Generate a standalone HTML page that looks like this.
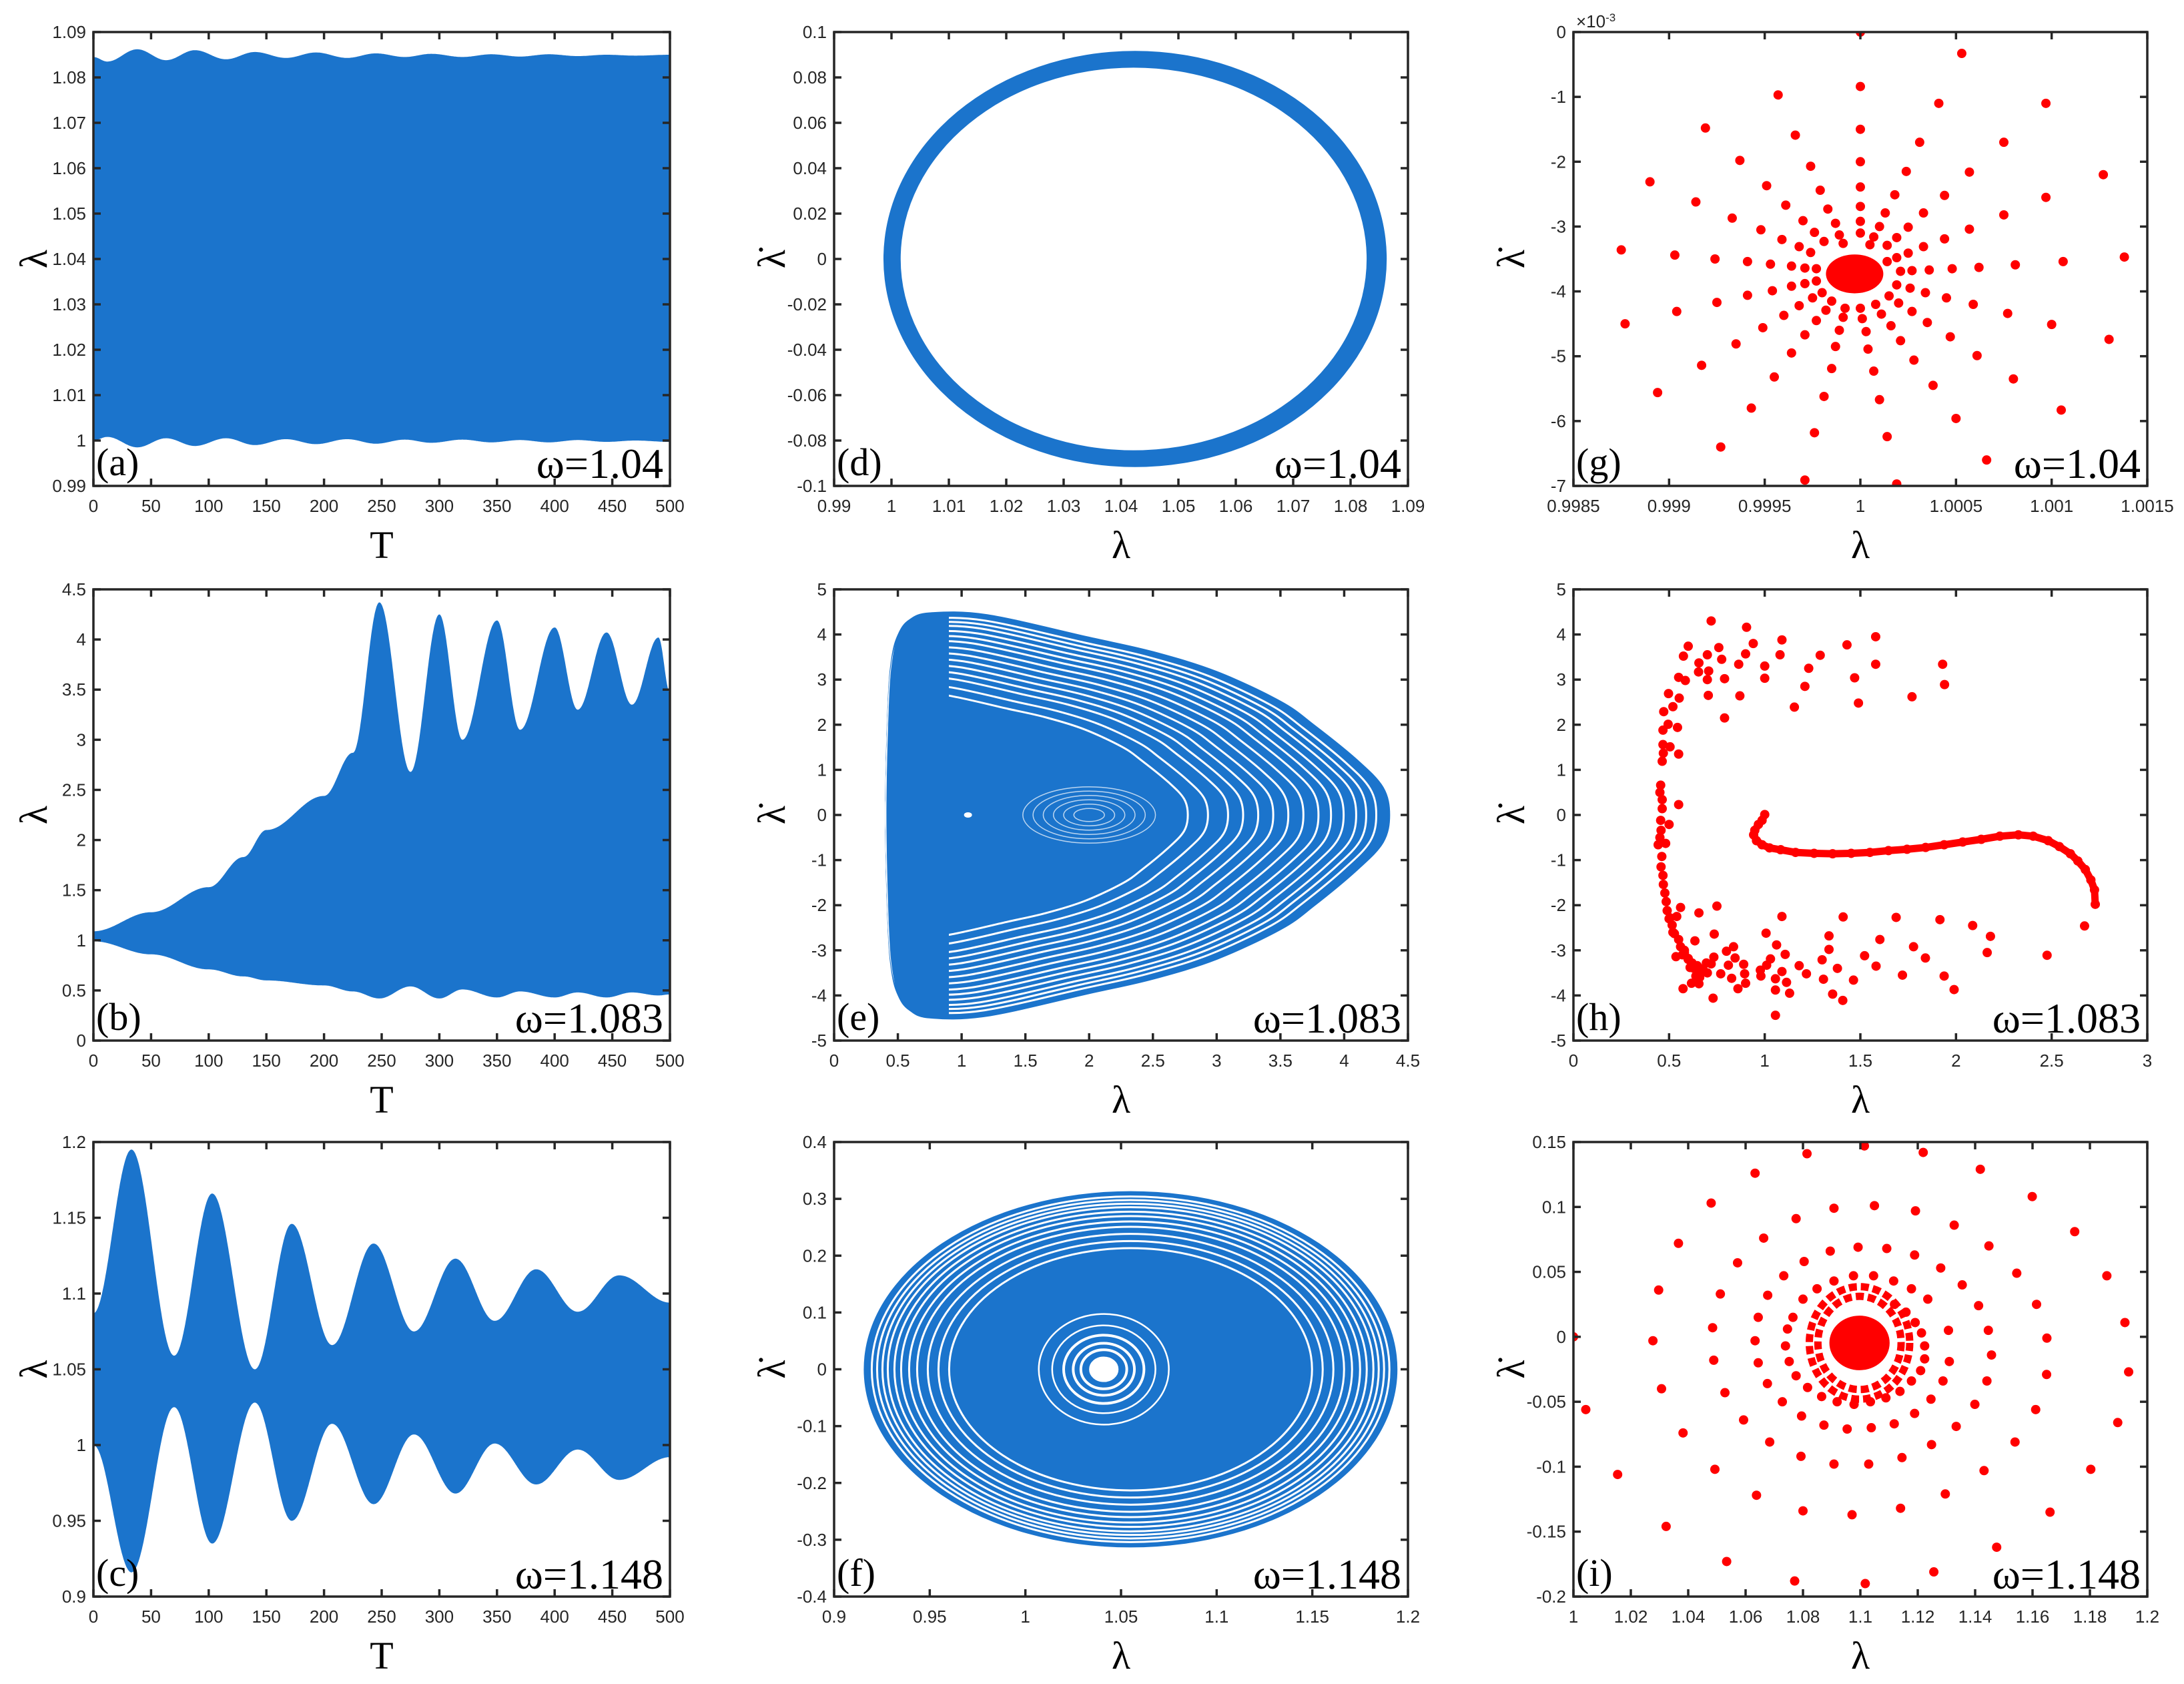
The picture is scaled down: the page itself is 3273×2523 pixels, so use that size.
<!DOCTYPE html>
<html><head><meta charset="utf-8"><style>
html,body{margin:0;padding:0;background:#fff;}
svg{display:block;}
.tk{font-family:"Liberation Sans",sans-serif;font-size:26px;fill:#262626;}
.sr{font-family:"Liberation Serif",serif;fill:#000;}
</style></head><body>
<svg id="fig" xmlns="http://www.w3.org/2000/svg" width="3273" height="2523" viewBox="0 0 3273 2523"></svg>
<script>
// ===== data (a) =====
const aT=[0,12,38,63,88,115,140,167,193,220,245,270,293,320,345,370,395,420,445,470,500];
const aUpper=[1.0845,1.0835,1.0862,1.0838,1.086,1.084,1.0856,1.0843,1.0855,1.0843,1.0853,1.0845,1.0852,1.0845,1.0851,1.0846,1.0851,1.0847,1.085,1.0848,1.085];
const aLower=[1.0,1.0008,0.9985,1.0005,0.9988,1.0005,0.999,1.0003,0.9992,1.0003,0.9993,1.0002,0.9995,1.0002,0.9996,1.0001,0.9996,1.0001,0.9997,1.0,0.9997];
// ===== data (b) =====
const bT=[0,50,100,130,150,200,225,248,275,300,320,350,370,400,420,445,467,490,500];
const bUpper=[1.09,1.28,1.53,1.83,2.1,2.44,2.87,4.37,2.68,4.25,3.0,4.19,3.1,4.12,3.3,4.07,3.35,4.02,3.47];
const bLower=[0.99,0.86,0.71,0.64,0.6,0.55,0.49,0.42,0.54,0.42,0.51,0.43,0.49,0.43,0.48,0.43,0.48,0.45,0.46];
// ===== data (c) =====
const cT=[0,33,70,103,140,172,207,243,278,314,348,384,420,456,500];
const cUpper=[1.087,1.195,1.059,1.166,1.05,1.146,1.066,1.133,1.075,1.123,1.082,1.116,1.088,1.112,1.094];
const cLower=[1.0,0.916,1.025,0.935,1.028,0.95,1.014,0.961,1.007,0.968,1.001,0.974,0.997,0.977,0.992];
// ===== data (d) ring =====
const dOuter=[1.04245,0,0.04385,0.0917]; // cx, cy, rx, ry
const dInner=[1.0422,0,0.0406,0.0843];
// ===== data (e) =====
const eLam=[0.41,0.43,0.46,0.51,0.59,0.75,1.2,2.0,2.5,3.0,3.5,3.76,4.1,4.3,4.35];
const eTop=[0,2.5,3.5,4.0,4.3,4.46,4.42,3.92,3.6,3.16,2.5,1.98,1.2,0.6,0];
const eBot=[0,-2.5,-3.5,-4.0,-4.3,-4.48,-4.44,-3.94,-3.62,-3.18,-2.52,-2.0,-1.2,-0.6,0];
const eGapScales=[0.6,0.64,0.68,0.71,0.74,0.77,0.8,0.83,0.86,0.885,0.91,0.935,0.955,0.975];
const eInnerRings=[0.12,0.2,0.28,0.36,0.44,0.52];
const eInnerCenter=[2.0,0];
const eHole=[1.05,0];
const eSolidTo=0.9;
// ===== data (f) =====
const fOuter=[1.055,0,0.1395,0.3135];
const fGapScales=[0.68,0.72,0.76,0.8,0.83,0.86,0.885,0.91,0.93,0.95,0.97];
const fInnerCenter=[1.041,0];
const fInnerRx=[0.007,0.012,0.016,0.021,0.027,0.034];
// ===== data (g) λ, λ̇(×1e-3) =====
const gLam=[1.0,1.00053,1.0,0.99957,1.00041,1.00097,0.99919,0.99966,1.0,1.00031,1.00075,0.99937,1.0,0.99974,1.00024,1.00057,1.00127,0.9989,0.99951,1.0,0.99979,1.00018,1.00044,1.00097,0.99914,0.99961,1.0,0.99983,1.00013,1.00033,1.00075,0.99933,0.9997,1.0,0.99987,1.00025,1.00057,0.99976,0.99948,1.0001,0.99989,1.0,1.00007,1.00019,1.00044,0.99959,0.99981,0.99991,1.00014,1.00033,0.99968,1.00005,0.99875,0.99903,0.99924,0.99941,0.99953,0.99964,0.99971,0.99977,0.99974,1.00138,1.00106,1.00081,1.00062,1.00048,1.00036,1.00027,1.00021,1.00025,1.00019,1.00014,0.99877,0.99904,0.99925,0.99941,0.99954,0.99964,0.99971,0.99977,1.0013,1.001,1.00077,1.00059,1.00045,1.00034,1.00026,1.00019,0.99894,0.99917,0.99935,0.99949,0.9996,0.99968,0.99975,0.9998,0.99927,0.99943,0.99955,0.99964,0.99971,0.99977,0.99982,0.99985,0.99971,0.99976,0.99981,0.99985,0.99987,0.99989,0.99991,0.99992,1.00019,1.00014,1.0001,1.00007,1.00004,1.00003,1.00001,1.0,1.00066,1.0005,1.00038,1.00028,1.00021,1.00016,1.00011,1.00008,1.00105,1.0008,1.00061,1.00047,1.00035,1.00027,1.0002,1.00015,0.99997,0.99991,1.00003,0.99992,1.00002,0.99986,1.00008,0.99988,1.00006];
const gDot=[0.0,-0.33,-0.84,-0.97,-1.10,-1.10,-1.48,-1.59,-1.50,-1.70,-1.70,-1.98,-2.0,-2.07,-2.15,-2.16,-2.20,-2.31,-2.37,-2.39,-2.44,-2.51,-2.52,-2.55,-2.62,-2.67,-2.69,-2.73,-2.79,-2.79,-2.82,-2.87,-2.91,-2.92,-2.95,-3.01,-3.04,-3.09,-3.05,-3.0,-3.13,-3.10,-3.16,-3.17,-3.19,-3.20,-3.23,-3.26,-3.29,-3.31,-3.31,-3.28,-3.36,-3.44,-3.50,-3.54,-3.58,-3.61,-3.64,-3.65,-3.40,-3.47,-3.54,-3.59,-3.63,-3.65,-3.67,-3.68,-3.69,-3.41,-3.48,-3.54,-4.50,-4.31,-4.17,-4.06,-3.99,-3.92,-3.88,-3.84,-4.74,-4.51,-4.34,-4.20,-4.10,-4.02,-3.95,-3.90,-5.56,-5.14,-4.81,-4.56,-4.37,-4.22,-4.10,-4.02,-6.40,-5.80,-5.32,-4.95,-4.67,-4.45,-4.29,-4.15,-6.91,-6.18,-5.62,-5.19,-4.85,-4.60,-4.40,-4.26,-6.97,-6.24,-5.67,-5.23,-4.89,-4.62,-4.42,-4.26,-6.60,-5.96,-5.45,-5.06,-4.76,-4.53,-4.35,-4.20,-5.83,-5.35,-4.99,-4.70,-4.48,-4.31,-4.18,-4.07,-3.73,-3.60,-3.60,-3.85,-3.85,-3.73,-3.73,-3.62,-3.86];
const gBlob=[0.99997,-3.73,0.00015,0.3]; // centre, half-widths
// ===== data (h) =====
const hLam=[0.72,0.905,0.60,0.76,0.94,1.09,1.58,1.43,0.575,0.70,0.775,0.90,1.08,1.29,0.656,0.864,1.0,1.23,1.58,1.93,0.654,0.707,0.55,0.585,0.70,0.79,1.0,1.47,1.94,1.21,0.705,0.87,1.77,1.49,1.155,0.79,0.497,0.553,0.52,0.472,0.495,0.544,0.468,0.468,0.505,0.47,0.55,0.464,0.456,0.452,0.464,0.55,0.464,0.456,0.50,0.458,0.452,0.443,0.482,0.462,0.458,0.468,0.47,0.478,0.485,0.49,0.505,0.516,0.528,0.55,0.56,0.58,0.60,0.62,0.647,0.676,0.666,0.64,0.695,0.734,0.56,0.54,0.536,0.573,0.617,0.656,0.73,0.77,0.81,0.80,0.837,0.845,0.89,0.895,0.827,0.86,0.90,0.656,0.75,0.736,0.635,0.977,0.98,1.007,1.03,1.01,1.062,1.107,1.09,1.056,1.114,1.056,1.13,1.056,1.09,1.18,1.218,1.30,1.307,1.336,1.336,1.38,1.355,1.408,1.41,1.464,1.522,1.582,1.602,1.687,1.72,1.778,1.84,1.916,1.938,1.99,2.087,2.18,2.163,2.476,2.672,0.6,0.63,0.7,0.66,0.58,0.52,0.5,0.72,0.68,0.61,0.57];
const hDot=[4.30,4.16,3.74,3.71,3.80,3.88,3.95,3.77,3.52,3.55,3.45,3.57,3.55,3.54,3.37,3.34,3.30,3.25,3.34,3.34,3.17,3.19,3.05,2.98,3.0,3.02,3.03,3.04,2.89,2.85,2.65,2.64,2.62,2.48,2.39,2.15,2.69,2.59,2.40,2.29,2.01,1.94,1.88,1.56,1.51,1.37,1.35,1.19,0.66,0.50,0.34,0.23,0.14,-0.12,-0.21,-0.34,-0.50,-0.66,-0.63,-0.92,-1.15,-1.34,-1.54,-1.73,-1.92,-2.12,-2.28,-2.44,-2.63,-2.76,-2.92,-3.05,-3.18,-3.28,-3.34,-3.41,-3.47,-3.57,-3.28,-3.15,-2.05,-2.25,-3.14,-3.85,-3.73,-3.74,-4.06,-3.52,-3.33,-3.02,-2.92,-3.17,-3.31,-3.52,-3.62,-3.85,-3.73,-2.17,-2.02,-2.64,-2.79,-3.44,-3.57,-2.62,-3.19,-3.33,-2.88,-3.09,-3.47,-3.63,-3.71,-3.88,-3.95,-4.44,-2.25,-3.34,-3.52,-3.21,-3.64,-2.68,-2.98,-3.40,-3.97,-4.11,-2.26,-3.66,-3.12,-3.35,-2.76,-2.27,-3.55,-2.92,-3.17,-2.32,-3.57,-3.87,-2.45,-2.69,-3.05,-3.11,-2.46,-3.2,-3.4,-3.5,-3.6,-3.0,-2.6,-2.3,-3.3,-3.45,-3.38,-3.1];
const hCurveLam=[1.0,0.986,0.967,0.948,0.942,0.957,0.986,1.025,1.083,1.161,1.258,1.355,1.452,1.55,1.647,1.744,1.841,1.938,2.035,2.132,2.229,2.326,2.404,2.482,2.54,2.598,2.637,2.676,2.705,2.724,2.728];
const hCurveDot=[0.01,-0.12,-0.21,-0.34,-0.44,-0.57,-0.66,-0.73,-0.77,-0.83,-0.85,-0.86,-0.85,-0.83,-0.79,-0.76,-0.72,-0.66,-0.60,-0.54,-0.47,-0.44,-0.47,-0.57,-0.70,-0.86,-1.02,-1.21,-1.44,-1.66,-1.98];
// ===== data (i) =====
const iLam=[1.0,1.0043,1.0154,1.0323,1.0534,1.0771,1.1017,1.1256,1.1475,1.1661,1.1803,1.1897,1.1935,1.1922,1.1859,1.1747,1.1599,1.1418,1.1219,1.1014,1.0814,1.0633,1.048,1.0366,1.0297,1.0277,1.0307,1.0382,1.0493,1.0638,1.08,1.0971,1.114,1.1296,1.1431,1.1539,1.1611,1.1649,1.165,1.1614,1.1545,1.1448,1.1327,1.1192,1.1049,1.0908,1.0776,1.0663,1.0572,1.0512,1.0485,1.0489,1.0528,1.0593,1.0684,1.0793,1.0908,1.1029,1.1145,1.1248,1.1334,1.1399,1.1441,1.1457,1.1446,1.1412,1.1355,1.128,1.1189,1.1092,1.0992,1.0895,1.0804,1.0733,1.0677,1.0644,1.0633,1.0644,1.0676,1.0728,1.0795,1.0873,1.0954,1.1038,1.1118,1.1189,1.1246,1.1288,1.131,1.1307,1.1235,1.1178,1.1116,1.1046,1.0976,1.0908,1.0849,1.08,1.0765,1.0746,1.0739,1.0752,1.0776,1.0816,1.0865,1.0919,1.0978,1.1035,1.1089,1.1138,1.1178,1.121,1.1224,1.1224,1.1213,1.1191,1.1159,1.1119];
const iDot=[0.0,-0.056,-0.106,-0.146,-0.173,-0.188,-0.190,-0.181,-0.162,-0.135,-0.102,-0.066,-0.027,0.011,0.047,0.081,0.108,0.129,0.142,0.147,0.141,0.126,0.103,0.072,0.036,-0.003,-0.040,-0.074,-0.102,-0.122,-0.134,-0.137,-0.132,-0.121,-0.103,-0.081,-0.056,-0.029,-0.001,0.025,0.049,0.070,0.086,0.097,0.101,0.099,0.091,0.076,0.057,0.033,0.007,-0.018,-0.043,-0.064,-0.081,-0.092,-0.098,-0.098,-0.093,-0.083,-0.069,-0.052,-0.034,-0.014,0.005,0.024,0.040,0.053,0.063,0.068,0.069,0.066,0.058,0.047,0.032,0.015,-0.003,-0.020,-0.036,-0.050,-0.061,-0.068,-0.071,-0.070,-0.067,-0.059,-0.048,-0.034,-0.019,0.005,0.029,0.037,0.043,0.047,0.047,0.043,0.037,0.029,0.015,0.006,-0.007,-0.019,-0.030,-0.039,-0.046,-0.050,-0.052,-0.050,-0.047,-0.042,-0.034,-0.026,-0.017,-0.007,0.003,0.011,0.019,0.025];
const iRingRx=[0.0145,0.0175];
const iBlob=[1.0997,-0.0047,0.0105,0.021];

// ===== ticks =====
const tTicks=[0,50,100,150,200,250,300,350,400,450,500];
const tLabels=["0","50","100","150","200","250","300","350","400","450","500"];
const aY=[0.99,1.0,1.01,1.02,1.03,1.04,1.05,1.06,1.07,1.08,1.09];
const aYL=["0.99","1","1.01","1.02","1.03","1.04","1.05","1.06","1.07","1.08","1.09"];
const bY=[0,0.5,1,1.5,2,2.5,3,3.5,4,4.5];
const bYL=["0","0.5","1","1.5","2","2.5","3","3.5","4","4.5"];
const cY=[0.9,0.95,1,1.05,1.1,1.15,1.2];
const cYL=["0.9","0.95","1","1.05","1.1","1.15","1.2"];
const dX=[0.99,1.0,1.01,1.02,1.03,1.04,1.05,1.06,1.07,1.08,1.09];
const dXL=["0.99","1","1.01","1.02","1.03","1.04","1.05","1.06","1.07","1.08","1.09"];
const dY=[-0.1,-0.08,-0.06,-0.04,-0.02,0,0.02,0.04,0.06,0.08,0.1];
const dYL=["-0.1","-0.08","-0.06","-0.04","-0.02","0","0.02","0.04","0.06","0.08","0.1"];
const eX=[0,0.5,1,1.5,2,2.5,3,3.5,4,4.5];
const eXL=["0","0.5","1","1.5","2","2.5","3","3.5","4","4.5"];
const eY=[-5,-4,-3,-2,-1,0,1,2,3,4,5];
const eYL=["-5","-4","-3","-2","-1","0","1","2","3","4","5"];
const fX=[0.9,0.95,1,1.05,1.1,1.15,1.2];
const fXL=["0.9","0.95","1","1.05","1.1","1.15","1.2"];
const fY=[-0.4,-0.3,-0.2,-0.1,0,0.1,0.2,0.3,0.4];
const fYL=["-0.4","-0.3","-0.2","-0.1","0","0.1","0.2","0.3","0.4"];
const gX=[0.9985,0.999,0.9995,1,1.0005,1.001,1.0015];
const gXL=["0.9985","0.999","0.9995","1","1.0005","1.001","1.0015"];
const gY=[-7,-6,-5,-4,-3,-2,-1,0];
const gYL=["-7","-6","-5","-4","-3","-2","-1","0"];
const hX=[0,0.5,1,1.5,2,2.5,3];
const hXL=["0","0.5","1","1.5","2","2.5","3"];
const iX=[1,1.02,1.04,1.06,1.08,1.1,1.12,1.14,1.16,1.18,1.2];
const iXL=["1","1.02","1.04","1.06","1.08","1.1","1.12","1.14","1.16","1.18","1.2"];
const iY=[-0.2,-0.15,-0.1,-0.05,0,0.05,0.1,0.15];
const iYL=["-0.2","-0.15","-0.1","-0.05","0","0.05","0.1","0.15"];

const NS="http://www.w3.org/2000/svg";
const svg=document.getElementById('fig');
const BLUE="#1b74cc", RED="#ff0000", AX="#262626";
function el(tag,attrs,parent){const e=document.createElementNS(NS,tag);for(const k in attrs)e.setAttribute(k,attrs[k]);(parent||svg).appendChild(e);return e;}

function panel(name,x0,y0,w,h,xr,yr,xt,xtl,yt,ytl,xlab,ylab,plab,wlab){
  const g=el('g',{});
  
  
  const sx=v=>x0+(v-xr[0])/(xr[1]-xr[0])*w;
  const sy=v=>y0+h-(v-yr[0])/(yr[1]-yr[0])*h;
  const clipId='clip-'+name;
  const cp=el('clipPath',{id:clipId},g);el('rect',{x:x0,y:y0,width:w,height:h},cp);
  const plot=el('g',{'clip-path':'url(#'+clipId+')'},g);
  
  
  return {g,plot,sx,sy,finish(){
    const fr=el('g',{},g);
    
    
    el('rect',{x:x0,y:y0,width:w,height:h,fill:'none',stroke:AX,'stroke-width':3.5},fr);
    xt.forEach((v,i)=>{const x=sx(v);
      el('line',{x1:x,x2:x,y1:y0+h,y2:y0+h-11,stroke:AX,'stroke-width':3.5},fr);
      el('line',{x1:x,x2:x,y1:y0,y2:y0+11,stroke:AX,'stroke-width':3.5},fr);
      const t=el('text',{x:x,y:y0+h+39,'text-anchor':'middle',class:'tk'},fr);t.textContent=xtl[i];
      
      });
    yt.forEach((v,i)=>{const y=sy(v);
      el('line',{x1:x0,x2:x0+11,y1:y,y2:y,stroke:AX,'stroke-width':3.5},fr);
      el('line',{x1:x0+w,x2:x0+w-11,y1:y,y2:y,stroke:AX,'stroke-width':3.5},fr);
      const t=el('text',{x:x0-11,y:y+9,'text-anchor':'end',class:'tk'},fr);t.textContent=ytl[i];
      
      });
    const xl=el('text',{x:x0+w/2,y:y0+h+108,'text-anchor':'middle',class:'sr','font-size':58},g);xl.textContent=xlab;
    
    
    const ly=y0+h/2;const lx=x0-(name.startsWith('panel-a')||name.startsWith('panel-b')||name.startsWith('panel-c')?88:92);
    const yl=el('text',{x:0,y:0,'text-anchor':'middle',class:'sr','font-size':58,transform:'translate('+(lx+18)+','+ly+') rotate(-90)'},g);yl.textContent=ylab;
    
    
    const pl=el('text',{x:x0+4,y:y0+h-16,class:'sr','font-size':58},g);pl.textContent=plab;
    
    
    const wl=el('text',{x:x0+w-10,y:y0+h-12,'text-anchor':'end',class:'sr','font-size':64},g);wl.textContent=wlab;
    
    
  }};
}
function cosInterp(xs,ys,t){
  for(let i=0;i<xs.length-1;i++){if(t<=xs[i+1]){const u=(t-xs[i])/(xs[i+1]-xs[i]);const m=(1-Math.cos(Math.PI*u))/2;return ys[i]+(ys[i+1]-ys[i])*m;}}
  return ys[ys.length-1];
}
function envelope(P,T,U,L,name){
  let up=[],lo=[];
  for(let t=T[0];t<=T[T.length-1]+1e-9;t+=0.5){up.push(P.sx(t).toFixed(1)+','+P.sy(cosInterp(T,U,t)).toFixed(1));lo.push(P.sx(t).toFixed(1)+','+P.sy(cosInterp(T,L,t)).toFixed(1));}
  const p=el('polygon',{points:up.concat(lo.reverse()).join(' '),fill:BLUE},P.plot);
  
  
}
function dots(P,X,Y,r,name){
  X.forEach((v,i)=>{const c=el('circle',{cx:P.sx(v),cy:P.sy(Y[i]),r:r,fill:RED},P.plot);
    
    });
}
function smoothPath(pts,closed){
  // Catmull-Rom to cubic bezier
  const n=pts.length;let d='M'+pts[0][0].toFixed(1)+','+pts[0][1].toFixed(1);
  const get=i=>closed?pts[(i+n)%n]:pts[Math.max(0,Math.min(n-1,i))];
  const last=closed?n:n-1;
  for(let i=0;i<last;i++){const p0=get(i-1),p1=get(i),p2=get(i+1),p3=get(i+2);
    const c1=[p1[0]+(p2[0]-p0[0])/6,p1[1]+(p2[1]-p0[1])/6],c2=[p2[0]-(p3[0]-p1[0])/6,p2[1]-(p3[1]-p1[1])/6];
    d+=' C'+c1[0].toFixed(1)+','+c1[1].toFixed(1)+' '+c2[0].toFixed(1)+','+c2[1].toFixed(1)+' '+p2[0].toFixed(1)+','+p2[1].toFixed(1);}
  return d+(closed?' Z':'');
}
const CX=[140,1250,2358],CW=[864,860,860],RY=[48,883,1711],RH=[680,676,681];
const DOT="λ\u0307";

// (a)
let P=panel('panel-a',CX[0],RY[0],CW[0],RH[0],[0,500],[0.99,1.09],tTicks,tLabels,aY,aYL,'T','λ','(a)','ω=1.04');
envelope(P,aT,aUpper,aLower,'series-a-lambda');P.finish();
// (b)
P=panel('panel-b',CX[0],RY[1],CW[0],RH[1],[0,500],[0,4.5],tTicks,tLabels,bY,bYL,'T','λ','(b)','ω=1.083');
envelope(P,bT,bUpper,bLower,'series-b-lambda');P.finish();
// (c)
P=panel('panel-c',CX[0],RY[2],CW[0],RH[2],[0,500],[0.9,1.2],tTicks,tLabels,cY,cYL,'T','λ','(c)','ω=1.148');
envelope(P,cT,cUpper,cLower,'series-c-lambda');P.finish();
// (d)
P=panel('panel-d',CX[1],RY[0],CW[1],RH[0],[0.99,1.09],[-0.1,0.1],dX,dXL,dY,dYL,'λ',DOT,'(d)','ω=1.04');
(function(){const e=(c)=>{const cx=P.sx(c[0]),cy=P.sy(c[1]),rx=P.sx(c[0]+c[2])-cx,ry=cy-P.sy(c[1]+c[3]);return 'M'+(cx-rx)+','+cy+' a'+rx+','+ry+' 0 1,0 '+(2*rx)+',0 a'+rx+','+ry+' 0 1,0 '+(-2*rx)+',0 Z';};
 const p=el('path',{d:e(dOuter)+' '+e(dInner),fill:BLUE,'fill-rule':'evenodd'},P.plot);
 
 })();
P.finish();
// (e)
P=panel('panel-e',CX[1],RY[1],CW[1],RH[1],[0,4.5],[-5,5],eX,eXL,eY,eYL,'λ',DOT,'(e)','ω=1.083');
(function(){
 const shape=(k)=>{const pts=[];const l0=eLam[0];
   for(let i=0;i<eLam.length;i++)pts.push([P.sx(l0+(eLam[i]-l0)*k),P.sy(eTop[i]*k)]);
   for(let i=eLam.length-2;i>=1;i--)pts.push([P.sx(l0+(eLam[i]-l0)*k),P.sy(eBot[i]*k)]);return smoothPath(pts,true);};
 const outer=shape(1);
 const cp=el('clipPath',{id:'clip-e-shape'},P.plot);el('path',{d:outer},cp);
 const p=el('path',{d:outer,fill:BLUE,stroke:BLUE,'stroke-width':4},P.plot);
 
 
 eGapScales.forEach(k=>{const q=el('path',{d:shape(k),fill:'none',stroke:'#fff','stroke-width':3},P.plot);
   
   });
 const band=el('rect',{x:P.sx(0),y:P.sy(5),width:P.sx(eSolidTo)-P.sx(0),height:P.sy(-5)-P.sy(5),fill:BLUE,'clip-path':'url(#clip-e-shape)'},P.plot);
 
 
 eInnerRings.forEach(r=>{const c=el('ellipse',{cx:P.sx(eInnerCenter[0]),cy:P.sy(eInnerCenter[1]),rx:P.sx(r)-P.sx(0),ry:P.sy(0)-P.sy(r*1.2),fill:'none',stroke:'#fff','stroke-width':1.5,'stroke-opacity':0.7},P.plot);
   
   });
 const h=el('ellipse',{cx:P.sx(eHole[0]),cy:P.sy(eHole[1]),rx:6,ry:4,fill:'#fff'},P.plot);
 
 
})();
P.finish();
// (f)
P=panel('panel-f',CX[1],RY[2],CW[1],RH[2],[0.9,1.2],[-0.4,0.4],fX,fXL,fY,fYL,'λ',DOT,'(f)','ω=1.148');
(function(){
 const cx=P.sx(fOuter[0]),cy=P.sy(fOuter[1]),rx=P.sx(fOuter[0]+fOuter[2])-cx,ry=cy-P.sy(fOuter[1]+fOuter[3]);
 const o=el('ellipse',{cx:cx,cy:cy,rx:rx,ry:ry,fill:BLUE},P.plot);
 
 
 fGapScales.forEach(k=>{const q=el('ellipse',{cx:cx,cy:cy,rx:rx*k,ry:ry*k,fill:'none',stroke:'#fff','stroke-width':3},P.plot);
   
   });
 const icx=P.sx(fInnerCenter[0]),icy=P.sy(fInnerCenter[1]);
 fInnerRx.forEach((r,i)=>{const rxp=P.sx(r)-P.sx(0);const q=el('ellipse',{cx:icx,cy:icy,rx:rxp,ry:rxp*0.85,fill:i==0?'#fff':'none',stroke:'#fff','stroke-width':i<4?4:2.5},P.plot);
   
   });
})();
P.finish();
// (g)
P=panel('panel-g',CX[2],RY[0],CW[2],RH[0],[0.9985,1.0015],[-7,0],gX,gXL,gY,gYL,'λ',DOT,'(g)','ω=1.04');
(function(){const b=el('ellipse',{cx:P.sx(gBlob[0]),cy:P.sy(gBlob[1]),rx:P.sx(gBlob[0]+gBlob[2])-P.sx(gBlob[0]),ry:P.sy(gBlob[1])-P.sy(gBlob[1]+gBlob[3]),fill:RED},P.plot);
 
 })();
dots(P,gLam,gDot,7,'poincare-point');P.finish();
(function(){const t=el('text',{x:2362,y:41,class:'tk','font-size':22},svg);t.textContent='×10';
 
 
 const s=el('tspan',{dy:-9,'font-size':17},t);s.textContent='-3';})();
// (h)
P=panel('panel-h',CX[2],RY[1],CW[2],RH[1],[0,3],[-5,5],hX,hXL,eY,eYL,'λ',DOT,'(h)','ω=1.083');
(function(){const pts=hCurveLam.map((v,i)=>P.sx(v).toFixed(1)+','+P.sy(hCurveDot[i]).toFixed(1)).join(' ');
 const c=el('polyline',{points:pts,fill:'none',stroke:RED,'stroke-width':11,'stroke-linecap':'round','stroke-linejoin':'round'},P.plot);
 
 })();
dots(P,hCurveLam,hCurveDot,7,'poincare-point');
dots(P,hLam,hDot,7,'poincare-point');P.finish();
// (i)
P=panel('panel-i',CX[2],RY[2],CW[2],RH[2],[1,1.2],[-0.2,0.15],iX,iXL,iY,iYL,'λ',DOT,'(i)','ω=1.148');
(function(){const cx=P.sx(iBlob[0]),cy=P.sy(iBlob[1]);
 iRingRx.forEach(r=>{const q=el('ellipse',{cx:cx,cy:cy,rx:P.sx(r)-P.sx(0),ry:(P.sx(r)-P.sx(0))*1.12,fill:'none',stroke:RED,'stroke-width':11,'stroke-dasharray':'12 6'},P.plot);
  
  });
 const b=el('ellipse',{cx:cx,cy:cy,rx:P.sx(iBlob[2])-P.sx(0),ry:P.sy(0)-P.sy(iBlob[3]),fill:RED},P.plot);
 
 })();
dots(P,iLam,iDot,7,'poincare-point');P.finish();
</script>
</body></html>
